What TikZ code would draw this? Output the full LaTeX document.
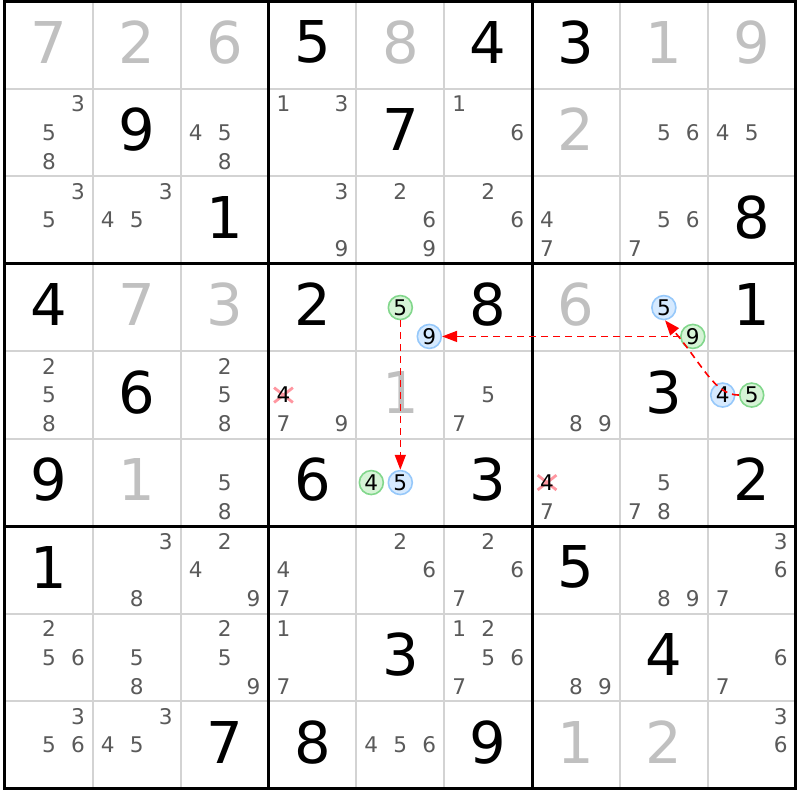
\documentclass[tikz,border=0pt]{standalone}
\usepackage{fontspec}
\setmainfont{DejaVu Sans}
\usetikzlibrary{arrows.meta,shapes.misc}

\definecolor{givengray}{RGB}{192,192,192}
\definecolor{candgray}{RGB}{90,90,90}
\definecolor{gridgray}{RGB}{211,211,211}
\definecolor{bluefill}{RGB}{214,234,255}
\definecolor{bluedraw}{RGB}{150,200,250}
\definecolor{greenfill}{RGB}{214,244,214}
\definecolor{greendraw}{RGB}{130,215,140}
\definecolor{killred}{RGB}{255,150,160}

\tikzset{
  given/.style={font=\fontsize{28.8}{34}\selectfont, text=givengray, inner sep=0pt, yshift=1.5pt},
  solved/.style={given, text=black},
  cand/.style={font=\fontsize{10.8}{12}\selectfont, text=candgray, inner sep=0pt},
  bluecand/.style={cand, text=black, circle, draw=bluedraw, fill=bluefill, line width=0.8pt, minimum size=12pt},
  greencand/.style={bluecand, draw=greendraw, fill=greenfill},
  crossmark/.style={cross out, draw=killred, line width=1.4pt, minimum width=8pt, minimum height=6pt, inner sep=0pt},
  chainlink/.style={red, line width=0.8pt, dash pattern=on 3.5pt off 2.5pt, -{Triangle[length=7.5pt,width=5.5pt]}}
}

% row, col, digits
\newcommand{\pencil}[3]{%
  \foreach \dg in {#3}{
    \pgfmathtruncatemacro\pcol{mod(\dg-1,3)}
    \pgfmathtruncatemacro\prow{div(\dg-1,3)}
    \node[cand] (p#1#2\dg) at (#2-0.83+0.33*\pcol, #1-0.83+0.33*\prow) {\dg};
  }}

\begin{document}
\begin{tikzpicture}[x=43.925pt, y=-43.75pt]
\useasboundingbox (-0.0569,-0.0149) rectangle (9.0495,9.128);
% grid
\foreach \i in {1,...,8}
  \draw[gridgray, line width=1pt] (\i,0) -- (\i,9) (0,\i) -- (9,\i);
\foreach \i in {3,6}
  \draw[line width=1.5pt] (\i,0) -- (\i,9) (0,\i) -- (9,\i);
\draw[line width=1.5pt] (0,0) rectangle (9,9);
% row 1
\node[given] (v11) at (0.5,0.5) {7};
\node[given] (v12) at (1.5,0.5) {2};
\node[given] (v13) at (2.5,0.5) {6};
\node[solved] (v14) at (3.5,0.5) {5};
\node[given] (v15) at (4.5,0.5) {8};
\node[solved] (v16) at (5.5,0.5) {4};
\node[solved] (v17) at (6.5,0.5) {3};
\node[given] (v18) at (7.5,0.5) {1};
\node[given] (v19) at (8.5,0.5) {9};
% row 2
\pencil{2}{1}{3,5,8}
\node[solved] (v22) at (1.5,1.5) {9};
\pencil{2}{3}{4,5,8}
\pencil{2}{4}{1,3}
\node[solved] (v25) at (4.5,1.5) {7};
\pencil{2}{6}{1,6}
\node[given] (v27) at (6.5,1.5) {2};
\pencil{2}{8}{5,6}
\pencil{2}{9}{4,5}
% row 3
\pencil{3}{1}{3,5}
\pencil{3}{2}{3,4,5}
\node[solved] (v33) at (2.5,2.5) {1};
\pencil{3}{4}{3,9}
\pencil{3}{5}{2,6,9}
\pencil{3}{6}{2,6}
\pencil{3}{7}{4,7}
\pencil{3}{8}{5,6,7}
\node[solved] (v39) at (8.5,2.5) {8};
% row 4
\node[solved] (v41) at (0.5,3.5) {4};
\node[given] (v42) at (1.5,3.5) {7};
\node[given] (v43) at (2.5,3.5) {3};
\node[solved] (v44) at (3.5,3.5) {2};
\node[greencand] (k455) at (4.5,3.5) {5};
\node[bluecand] (k459) at (4.83,3.83) {9};
\node[solved] (v46) at (5.5,3.5) {8};
\node[given] (v47) at (6.5,3.5) {6};
\node[bluecand] (k485) at (7.5,3.5) {5};
\node[greencand] (k489) at (7.83,3.83) {9};
\node[solved] (v49) at (8.5,3.5) {1};
% row 5
\pencil{5}{1}{2,5,8}
\node[solved] (v52) at (1.5,4.5) {6};
\pencil{5}{3}{2,5,8}
\node[crossmark] (x544) at (3.17,4.5) {};
\node[cand, text=black] (p544) at (3.17,4.5) {4};
\pencil{5}{4}{7,9}
\node[given] (v55) at (4.5,4.5) {1};
\pencil{5}{6}{5,7}
\pencil{5}{7}{8,9}
\node[solved] (v58) at (7.5,4.5) {3};
\node[bluecand] (k594) at (8.17,4.5) {4};
\node[greencand] (k595) at (8.5,4.5) {5};
% row 6
\node[solved] (v61) at (0.5,5.5) {9};
\node[given] (v62) at (1.5,5.5) {1};
\pencil{6}{3}{5,8}
\node[solved] (v64) at (3.5,5.5) {6};
\node[greencand] (k654) at (4.17,5.5) {4};
\node[bluecand] (k655) at (4.5,5.5) {5};
\node[solved] (v66) at (5.5,5.5) {3};
\node[crossmark] (x674) at (6.17,5.5) {};
\node[cand, text=black] (p674) at (6.17,5.5) {4};
\pencil{6}{7}{7}
\pencil{6}{8}{5,7,8}
\node[solved] (v69) at (8.5,5.5) {2};
% row 7
\node[solved] (v71) at (0.5,6.5) {1};
\pencil{7}{2}{3,8}
\pencil{7}{3}{2,4,9}
\pencil{7}{4}{4,7}
\pencil{7}{5}{2,6}
\pencil{7}{6}{2,6,7}
\node[solved] (v77) at (6.5,6.5) {5};
\pencil{7}{8}{8,9}
\pencil{7}{9}{3,6,7}
% row 8
\pencil{8}{1}{2,5,6}
\pencil{8}{2}{5,8}
\pencil{8}{3}{2,5,9}
\pencil{8}{4}{1,7}
\node[solved] (v85) at (4.5,7.5) {3};
\pencil{8}{6}{1,2,5,6,7}
\pencil{8}{7}{8,9}
\node[solved] (v88) at (7.5,7.5) {4};
\pencil{8}{9}{6,7}
% row 9
\pencil{9}{1}{3,5,6}
\pencil{9}{2}{3,4,5}
\node[solved] (v93) at (2.5,8.5) {7};
\node[solved] (v94) at (3.5,8.5) {8};
\pencil{9}{5}{4,5,6}
\node[solved] (v96) at (5.5,8.5) {9};
\node[given] (v97) at (6.5,8.5) {1};
\node[given] (v98) at (7.5,8.5) {2};
\pencil{9}{9}{3,6}
% chain
\draw[chainlink] (k455) -- (k655);
\draw[chainlink] (k489) -- (k459);
\draw[chainlink] (k595.west) .. controls +(180:12pt) and +(-50:30pt) .. (k485.-85);
\end{tikzpicture}
\end{document}
